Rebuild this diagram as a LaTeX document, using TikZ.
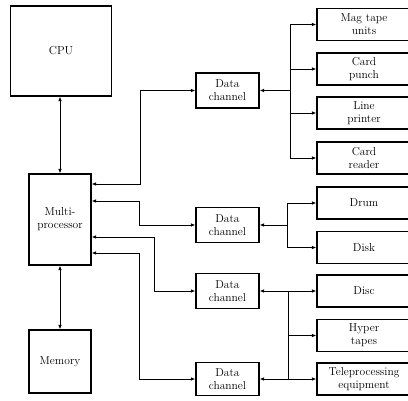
\documentclass[tikz,border=0pt]{standalone}
\usepackage{tikz}
\usetikzlibrary{arrows.meta}

\begin{document}
\begin{tikzpicture}[x=1pt, y=-1pt, >={Latex[length=4.5pt,width=3.6pt]},
    box/.style={draw, line width=1.2pt, inner sep=1pt, align=center,
        font=\fontsize{11.5}{13}\selectfont},
    chan/.style={box, minimum width=63pt, minimum height=35pt},
    dev/.style={box, minimum width=94pt, minimum height=32pt},
    link/.style={line width=1pt}]

    \useasboundingbox (0,0) rectangle (408,400);

    % CPU・マルチプロセッサ・メモリ
    \node[box, minimum width=101pt, minimum height=90pt] (cpu) at (61,51) {CPU};
    \node[box, minimum width=62pt, minimum height=91pt] (multi) at (60,219.5) {Multi-\\processor};
    \node[box, minimum width=62pt, minimum height=63pt] (mem) at (60,361.5) {Memory};

    % データチャネル
    \node[chan] (dc1) at (227.5,90.5) {Data\\channel};
    \node[chan] (dc2) at (227.5,225) {Data\\channel};
    \node[chan] (dc3) at (227.5,291) {Data\\channel};
    \node[chan, minimum height=33pt] (dc4) at (227.5,379) {Data\\channel};

    % 入出力装置
    \foreach \name/\y/\txt in {mag/24.5/{Mag tape\\units}, punch/69/{Card\\punch},
        printer/113/{Line\\printer}, reader/158/{Card\\reader},
        drum/203/{Drum}, disk/247.5/{Disk},
        disc/291/{Disc}, hyper/335.5/{Hyper\\tapes},
        tele/379/{Teleprocessing\\equipment}} {
        \node[dev] (\name) at (364,\y) {\txt};
    }

    % CPU・メモリとの接続
    \draw[link, <->] (multi.north) -- (multi.north |- cpu.south);
    \draw[link, <->] (multi.south) -- (mem.north);

    % マルチプロセッサからデータチャネルへ
    \coordinate (j1) at (140,184);
    \coordinate (j2) at (139,201);
    \coordinate (j3) at (154,237);
    \coordinate (j4) at (139,253);
    \draw[link, <->] (multi.east |- j1) -- (j1) |- (dc1.west);
    \draw[link, <->] (multi.east |- j2) -- (j2) |- (dc2.west);
    \draw[link, <->] (multi.east |- j3) -- (j3) |- (dc3.west);
    \draw[link, <->] (multi.east |- j4) -- (j4) |- (dc4.west);

    % データチャネル1の分岐
    \coordinate (bus1) at (290,0);
    \draw[link, <-] (dc1.east) -- (dc1.east -| bus1);
    \draw[link] (bus1 |- mag.west) -- (bus1 |- reader.west);
    \foreach \d in {mag,punch,printer,reader} {
        \draw[link, ->] (bus1 |- \d.west) -- (\d.west);
    }

    % データチャネル2の分岐
    \coordinate (bus2) at (287,0);
    \draw[link, <-] (dc2.east) -- (dc2.east -| bus2);
    \draw[link] (bus2 |- drum.west) -- (bus2 |- disk.west);
    \foreach \d in {drum,disk} {
        \draw[link, ->] (bus2 |- \d.west) -- (\d.west);
    }

    % データチャネル3・4の共有分岐
    \coordinate (bus3) at (288,0);
    \draw[link, <->] (dc3.east) -- (disc.west);
    \draw[link, <->] (dc4.east) -- (tele.west);
    \draw[link] (bus3 |- disc.west) -- (bus3 |- tele.west);
    \draw[link, ->] (bus3 |- hyper.west) -- (hyper.west);

\end{tikzpicture}
\end{document}
